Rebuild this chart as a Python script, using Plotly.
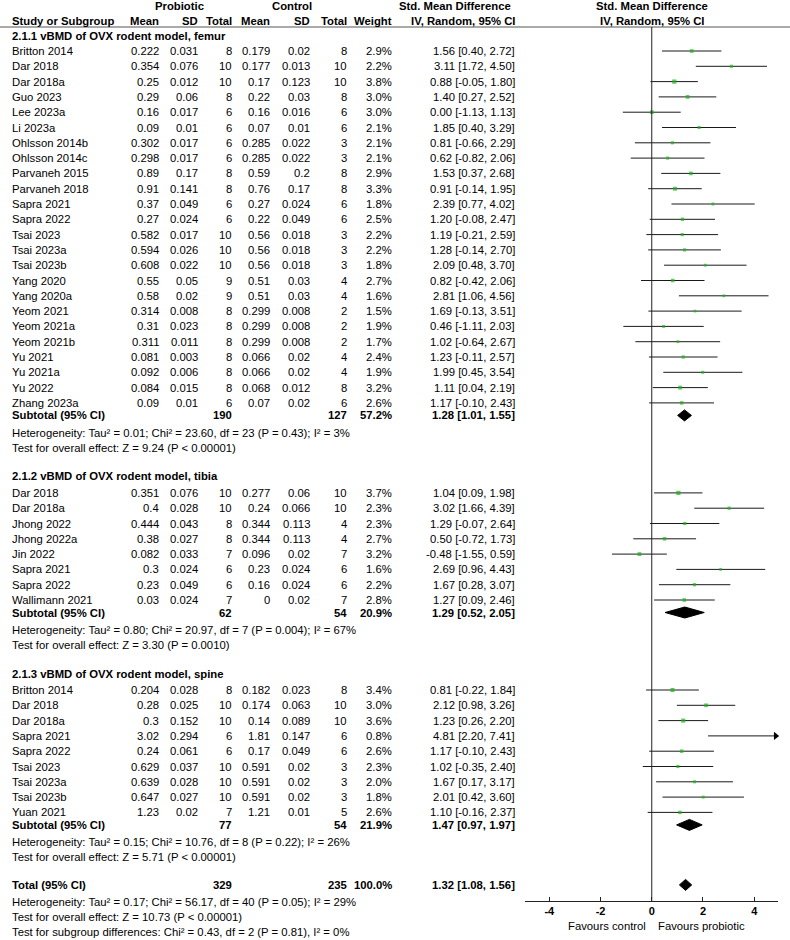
import plotly.graph_objects as go

FONT = "Liberation Sans, Arial, sans-serif"
W, H = 790, 940

# ---------------- DATA ----------------
# 2.1.1 femur
fem_study = ["Britton 2014", "Dar 2018", "Dar 2018a", "Guo 2023", "Lee 2023a", "Li 2023a",
             "Ohlsson 2014b", "Ohlsson 2014c", "Parvaneh 2015", "Parvaneh 2018", "Sapra 2021",
             "Sapra 2022", "Tsai 2023", "Tsai 2023a", "Tsai 2023b", "Yang 2020", "Yang 2020a",
             "Yeom 2021", "Yeom 2021a", "Yeom 2021b", "Yu 2021", "Yu 2021a", "Yu 2022", "Zhang 2023a"]
fem_p_mean = [0.222, 0.354, 0.25, 0.29, 0.16, 0.09, 0.302, 0.298, 0.89, 0.91, 0.37, 0.27, 0.582, 0.594,
              0.608, 0.55, 0.58, 0.314, 0.31, 0.311, 0.081, 0.092, 0.084, 0.09]
fem_p_sd = [0.031, 0.076, 0.012, 0.06, 0.017, 0.01, 0.017, 0.017, 0.17, 0.141, 0.049, 0.024, 0.017, 0.026,
            0.022, 0.05, 0.02, 0.008, 0.023, 0.011, 0.003, 0.006, 0.015, 0.01]
fem_p_n = [8, 10, 10, 8, 6, 6, 6, 6, 8, 8, 6, 6, 10, 10, 10, 9, 9, 8, 8, 8, 8, 8, 8, 6]
fem_c_mean = [0.179, 0.177, 0.17, 0.22, 0.16, 0.07, 0.285, 0.285, 0.59, 0.76, 0.27, 0.22, 0.56, 0.56,
              0.56, 0.51, 0.51, 0.299, 0.299, 0.299, 0.066, 0.066, 0.068, 0.07]
fem_c_sd = [0.02, 0.013, 0.123, 0.03, 0.016, 0.01, 0.022, 0.022, 0.2, 0.17, 0.024, 0.049, 0.018, 0.018,
            0.018, 0.03, 0.03, 0.008, 0.008, 0.008, 0.02, 0.02, 0.012, 0.02]
fem_c_n = [8, 10, 10, 8, 6, 6, 3, 3, 8, 8, 6, 6, 3, 3, 3, 4, 4, 2, 2, 2, 4, 4, 8, 6]
fem_weight = [2.9, 2.2, 3.8, 3.0, 3.0, 2.1, 2.1, 2.1, 2.9, 3.3, 1.8, 2.5, 2.2, 2.2, 1.8, 2.7, 1.6, 1.5,
              1.9, 1.7, 2.4, 1.9, 3.2, 2.6]
fem_smd = [1.56, 3.11, 0.88, 1.40, 0.00, 1.85, 0.81, 0.62, 1.53, 0.91, 2.39, 1.20, 1.19, 1.28, 2.09,
           0.82, 2.81, 1.69, 0.46, 1.02, 1.23, 1.99, 1.11, 1.17]
fem_lo = [0.40, 1.72, -0.05, 0.27, -1.13, 0.40, -0.66, -0.82, 0.37, -0.14, 0.77, -0.08, -0.21, -0.14,
          0.48, -0.42, 1.06, -0.13, -1.11, -0.64, -0.11, 0.45, 0.04, -0.10]
fem_hi = [2.72, 4.50, 1.80, 2.52, 1.13, 3.29, 2.29, 2.06, 2.68, 1.95, 4.02, 2.47, 2.59, 2.70, 3.70,
          2.06, 4.56, 3.51, 2.03, 2.67, 2.57, 3.54, 2.19, 2.43]

# 2.1.2 tibia
tib_study = ["Dar 2018", "Dar 2018a", "Jhong 2022", "Jhong 2022a", "Jin 2022", "Sapra 2021",
             "Sapra 2022", "Wallimann 2021"]
tib_p_mean = [0.351, 0.4, 0.444, 0.38, 0.082, 0.3, 0.23, 0.03]
tib_p_sd = [0.076, 0.028, 0.043, 0.027, 0.033, 0.024, 0.049, 0.024]
tib_p_n = [10, 10, 8, 8, 7, 6, 6, 7]
tib_c_mean = [0.277, 0.24, 0.344, 0.344, 0.096, 0.23, 0.16, 0]
tib_c_sd = [0.06, 0.066, 0.113, 0.113, 0.02, 0.024, 0.024, 0.02]
tib_c_n = [10, 10, 4, 4, 7, 6, 6, 7]
tib_weight = [3.7, 2.3, 2.3, 2.7, 3.2, 1.6, 2.2, 2.8]
tib_smd = [1.04, 3.02, 1.29, 0.50, -0.48, 2.69, 1.67, 1.27]
tib_lo = [0.09, 1.66, -0.07, -0.72, -1.55, 0.96, 0.28, 0.09]
tib_hi = [1.98, 4.39, 2.64, 1.73, 0.59, 4.43, 3.07, 2.46]

# 2.1.3 spine
spi_study = ["Britton 2014", "Dar 2018", "Dar 2018a", "Sapra 2021", "Sapra 2022", "Tsai 2023",
             "Tsai 2023a", "Tsai 2023b", "Yuan 2021"]
spi_p_mean = [0.204, 0.28, 0.3, 3.02, 0.24, 0.629, 0.639, 0.647, 1.23]
spi_p_sd = [0.028, 0.025, 0.152, 0.294, 0.061, 0.037, 0.028, 0.027, 0.02]
spi_p_n = [8, 10, 10, 6, 6, 10, 10, 10, 7]
spi_c_mean = [0.182, 0.174, 0.14, 1.81, 0.17, 0.591, 0.591, 0.591, 1.21]
spi_c_sd = [0.023, 0.063, 0.089, 0.147, 0.049, 0.02, 0.02, 0.02, 0.01]
spi_c_n = [8, 10, 10, 6, 6, 3, 3, 3, 5]
spi_weight = [3.4, 3.0, 3.6, 0.8, 2.6, 2.3, 2.0, 1.8, 2.6]
spi_smd = [0.81, 2.12, 1.23, 4.81, 1.17, 1.02, 1.67, 2.01, 1.10]
spi_lo = [-0.22, 0.98, 0.26, 2.20, -0.10, -0.35, 0.17, 0.42, -0.16]
spi_hi = [1.84, 3.26, 2.20, 7.41, 2.43, 2.40, 3.17, 3.60, 2.37]

# subtotals
sub_title = ["2.1.1 vBMD of OVX rodent model, femur", "2.1.2 vBMD of OVX rodent model, tibia",
             "2.1.3 vBMD of OVX rodent model, spine"]
sub_p_n = [190, 62, 77]
sub_c_n = [127, 54, 54]
sub_weight = [57.2, 20.9, 21.9]
sub_smd = [1.28, 1.29, 1.47]
sub_lo = [1.01, 0.52, 0.97]
sub_hi = [1.55, 2.05, 1.97]
sub_het = ["Heterogeneity: Tau² = 0.01; Chi² = 23.60, df = 23 (P = 0.43); I² = 3%",
           "Heterogeneity: Tau² = 0.80; Chi² = 20.97, df = 7 (P = 0.004); I² = 67%",
           "Heterogeneity: Tau² = 0.15; Chi² = 10.76, df = 8 (P = 0.22); I² = 26%"]
sub_test = ["Test for overall effect: Z = 9.24 (P < 0.00001)",
            "Test for overall effect: Z = 3.30 (P = 0.0010)",
            "Test for overall effect: Z = 5.71 (P < 0.00001)"]

# total
total_p_n, total_c_n, total_weight = 329, 235, 100.0
total_smd, total_lo, total_hi = 1.32, 1.08, 1.56
total_lines = ["Heterogeneity: Tau² = 0.17; Chi² = 56.17, df = 40 (P = 0.05); I² = 29%",
               "Test for overall effect: Z = 10.73 (P < 0.00001)",
               "Test for subgroup differences: Chi² = 0.43, df = 2 (P = 0.81), I² = 0%"]

x_ticks = [-4, -2, 0, 2, 4]
x_tick_text = ["-4", "-2", "0", "2", "4"]
favours = ["Favours control", "Favours probiotic"]

groups = [
    dict(study=fem_study, pm=fem_p_mean, psd=fem_p_sd, pn=fem_p_n, cm=fem_c_mean, csd=fem_c_sd,
         cn=fem_c_n, w=fem_weight, smd=fem_smd, lo=fem_lo, hi=fem_hi),
    dict(study=tib_study, pm=tib_p_mean, psd=tib_p_sd, pn=tib_p_n, cm=tib_c_mean, csd=tib_c_sd,
         cn=tib_c_n, w=tib_weight, smd=tib_smd, lo=tib_lo, hi=tib_hi),
    dict(study=spi_study, pm=spi_p_mean, psd=spi_p_sd, pn=spi_p_n, cm=spi_c_mean, csd=spi_c_sd,
         cn=spi_c_n, w=spi_weight, smd=spi_smd, lo=spi_lo, hi=spi_hi),
]

# ---------------- LAYOUT CONSTANTS ----------------
XMIN, XMAX = -4.95, 4.93
AX_LEFT, AX_RIGHT = 525, 778
AXIS_Y = 901
HEADER_LINE_Y = 27
PITCH = 15.3
HDR_GAP = [15.5, 16.5, 16.5]
SUB_GAP, HET_GAP, TEST_GAP, SEC_GAP = 12.5, 17.2, 15.0, 28.8

COL = dict(pm=160, psd=199, pn=233, cm=271, csd=311, cn=348, w=393, ci=516)
LEFT = 11
GREEN = "#19b219"
LINE_C = "#1a1a1a"
FS = 11.3

annotations = []


def txt(x, y, s, anchor="left", bold=False, size=FS):
    annotations.append(dict(
        x=x / W, y=y, xref="paper", yref="y", text=("<b>%s</b>" % s) if bold else s,
        xanchor=anchor, yanchor="middle", showarrow=False, borderpad=0,
        font=dict(family=FONT, size=size, color="black")))


def fmt(v):
    return f"{v:g}"


# headers
txt(179, 6, "Probiotic", "center", True)
txt(292, 6, "Control", "center", True)
txt(455, 6, "Std. Mean Difference", "center", True)
txt(652, 6, "Std. Mean Difference", "center", True)
txt(LEFT, 21, "Study or Subgroup", "left", True)
for key, lab in [("pm", "Mean"), ("psd", "SD"), ("pn", "Total"), ("cm", "Mean"), ("csd", "SD"),
                 ("cn", "Total"), ("w", "Weight")]:
    txt(COL[key], 21, lab, "right", True)
txt(COL["ci"], 21, "IV, Random, 95% CI", "right", True)
txt(652, 21, "IV, Random, 95% CI", "center", True)

ci_x, ci_y = [], []
pt_x, pt_y, pt_s = [], [], []
arrows_x, arrows_y = [], []
diamonds = []

y = 35.5
for gi, g in enumerate(groups):
    if gi > 0:
        y += SEC_GAP
    txt(LEFT, y, sub_title[gi], "left", True)
    y += HDR_GAP[gi]
    for i in range(len(g["study"])):
        if i > 0:
            y += PITCH
        txt(LEFT, y, g["study"][i])
        txt(COL["pm"], y, fmt(g["pm"][i]), "right")
        txt(COL["psd"], y, fmt(g["psd"][i]), "right")
        txt(COL["pn"], y, str(g["pn"][i]), "right")
        txt(COL["cm"], y, fmt(g["cm"][i]), "right")
        txt(COL["csd"], y, fmt(g["csd"][i]), "right")
        txt(COL["cn"], y, str(g["cn"][i]), "right")
        txt(COL["w"], y, f"{g['w'][i]:.1f}%", "right")
        txt(COL["ci"], y, f"{g['smd'][i]:.2f} [{g['lo'][i]:.2f}, {g['hi'][i]:.2f}]", "right")
        hi = g["hi"][i]
        ci_x += [g["lo"][i], min(hi, XMAX - 0.05), None]
        ci_y += [y, y, None]
        if hi > XMAX:
            arrows_x.append(XMAX - 0.09)
            arrows_y.append(y)
        pt_x.append(g["smd"][i])
        pt_y.append(y)
        pt_s.append(1.6 + 0.7 * g["w"][i])
    y += SUB_GAP
    txt(LEFT, y, "Subtotal (95% CI)", "left", True)
    txt(COL["pn"], y, str(sub_p_n[gi]), "right", True)
    txt(COL["cn"], y, str(sub_c_n[gi]), "right", True)
    txt(COL["w"], y, f"{sub_weight[gi]:.1f}%", "right", True)
    txt(COL["ci"], y, f"{sub_smd[gi]:.2f} [{sub_lo[gi]:.2f}, {sub_hi[gi]:.2f}]", "right", True)
    diamonds.append((sub_lo[gi], sub_smd[gi], sub_hi[gi], y))
    y += HET_GAP
    txt(LEFT, y, sub_het[gi])
    y += TEST_GAP
    txt(LEFT, y, sub_test[gi])

y += 27.8
txt(LEFT, y, "Total (95% CI)", "left", True)
txt(COL["pn"], y, str(total_p_n), "right", True)
txt(COL["cn"], y, str(total_c_n), "right", True)
txt(COL["w"], y, f"{total_weight:.1f}%", "right", True)
txt(COL["ci"], y, f"{total_smd:.2f} [{total_lo:.2f}, {total_hi:.2f}]", "right", True)
diamonds.append((total_lo, total_smd, total_hi, y))
y += 16.6
for k, line in enumerate(total_lines):
    txt(LEFT, y + 15 * k, line)

# favours labels
txt(647, 926, favours[0], "right")
txt(657, 926, favours[1], "left")

fig = go.Figure()

fig.add_trace(go.Scatter(x=ci_x, y=ci_y, mode="lines", line=dict(color=LINE_C, width=1),
                         hoverinfo="skip", showlegend=False))
fig.add_trace(go.Scatter(x=pt_x, y=pt_y, mode="markers",
                         marker=dict(symbol="square", size=pt_s, color=GREEN, line=dict(width=0)),
                         showlegend=False))
if arrows_x:
    fig.add_trace(go.Scatter(x=arrows_x, y=arrows_y, mode="markers", cliponaxis=False,
                             marker=dict(symbol="triangle-right", size=7, color="black"),
                             showlegend=False))
for lo, est, hi, yy in diamonds:
    fig.add_trace(go.Scatter(x=[lo, est, hi, est, lo], y=[yy, yy - 5.5, yy, yy + 5.5, yy],
                             mode="lines", fill="toself", fillcolor="black",
                             line=dict(color="black", width=1), showlegend=False))

shapes = [
    dict(type="line", xref="paper", yref="y", x0=0, x1=1, y0=HEADER_LINE_Y, y1=HEADER_LINE_Y,
         line=dict(color="#555555", width=1)),
    dict(type="line", xref="x", yref="y", x0=0, x1=0, y0=HEADER_LINE_Y, y1=AXIS_Y,
         line=dict(color="#222222", width=1)),
]

fig.update_layout(
    width=W, height=H, margin=dict(l=0, r=0, t=0, b=0),
    paper_bgcolor="white", plot_bgcolor="white",
    showlegend=False, annotations=annotations, shapes=shapes,
    xaxis=dict(domain=[AX_LEFT / W, AX_RIGHT / W], range=[XMIN, XMAX], anchor="free",
               position=1 - AXIS_Y / H, showline=True, linecolor="#222222", linewidth=1,
               ticks="inside", ticklen=4, tickcolor="#222222", tickvals=x_ticks,
               ticktext=x_tick_text, showgrid=False, zeroline=False,
               tickfont=dict(family=FONT, size=11, color="black", weight="bold")),
    yaxis=dict(domain=[0, 1], range=[H, 0], visible=False, showgrid=False, zeroline=False),
)

fig.write_html("out.html", config={"displayModeBar": False},
               post_script="document.body.style.margin='0';document.body.style.overflow='hidden';")
